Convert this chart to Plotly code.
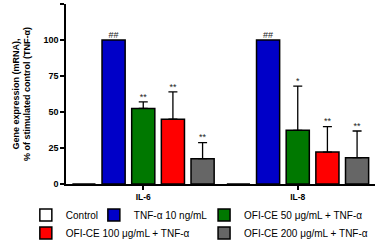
import plotly.graph_objects as go

categories = ["IL-6", "IL-8"]
series_names = ["Control", "TNF-α 10 ng/mL", "OFI-CE 50 μg/mL + TNF-α",
                "OFI-CE 100 μg/mL + TNF-α", "OFI-CE 200 μg/mL + TNF-α"]
control_vals = [0, 0]
tnf_vals = [100, 100]
ofi50_vals = [52.5, 37.3]
ofi100_vals = [45, 22.2]
ofi200_vals = [17.6, 18.3]
control_err = [0, 0]
tnf_err = [0, 0]
ofi50_err = [4.5, 30.7]
ofi100_err = [19, 17.6]
ofi200_err = [11.1, 18.5]
control_sig = ["", ""]
tnf_sig = ["##", "##"]
ofi50_sig = ["**", "*"]
ofi100_sig = ["**", "**"]
ofi200_sig = ["**", "**"]

colors = ["#FFFFFF", "#0000C8", "#007800", "#FF0000", "#666666"]
legend_ids = ["legend", "legend2", "legend3", "legend4", "legend5"]
values = [control_vals, tnf_vals, ofi50_vals, ofi100_vals, ofi200_vals]
errors = [control_err, tnf_err, ofi50_err, ofi100_err, ofi200_err]
sigs = [control_sig, tnf_sig, ofi50_sig, ofi100_sig, ofi200_sig]

fig = go.Figure()
for i, (name, vals, errs, col) in enumerate(zip(series_names, values, errors, colors)):
    fig.add_trace(go.Bar(
        x=categories, y=vals, name=name, offsetgroup=str(i), legend=legend_ids[i],
        marker=dict(color=col, line=dict(color="black", width=1.5)),
        error_y=dict(type="data", array=errs, arrayminus=[0] * len(errs),
                     symmetric=False, color="black", thickness=1.3, width=4.5,
                     visible=any(e > 0 for e in errs)),
    ))

for i, (vals, errs, sg) in enumerate(zip(values, errors, sigs)):
    fig.add_trace(go.Scatter(
        x=categories, y=[v + e for v, e in zip(vals, errs)], text=sg,
        mode="text", textposition="top center", offsetgroup=str(i),
        textfont=dict(size=9, color="#222222", family="Arial"),
        showlegend=False, hoverinfo="skip", cliponaxis=False,
    ))

legend_common = dict(orientation="h", xref="container", yref="container",
                     xanchor="left", yanchor="middle",
                     font=dict(size=10, family="Arial", color="black"),
                     itemwidth=30, bgcolor="rgba(0,0,0,0)")

fig.update_layout(
    width=380, height=242,
    margin=dict(l=66, r=5, t=4, b=58),
    barmode="group", scattermode="group",
    bargap=0.04, bargroupgap=0.22,
    plot_bgcolor="white", paper_bgcolor="white",
    font=dict(family="Arial", color="black"),
    showlegend=True,
    legend=dict(x=0.068, y=0.112, **legend_common),
    legend2=dict(x=0.247, y=0.112, **legend_common),
    legend3=dict(x=0.537, y=0.112, **legend_common),
    legend4=dict(x=0.068, y=0.037, **legend_common),
    legend5=dict(x=0.537, y=0.037, **legend_common),
    xaxis=dict(showline=True, linecolor="black", linewidth=1.5,
               ticks="outside", ticklen=4, tickwidth=1.5, tickcolor="black",
               tickfont=dict(size=8.5, family="Arial", color="black", weight="bold"),
               range=[-0.5, 1.5], automargin=False),
    yaxis=dict(range=[0, 125], tickvals=[0, 25, 50, 75, 100, 125],
               showline=True, linecolor="black", linewidth=1.5,
               ticks="outside", ticklen=4, tickwidth=1.5, tickcolor="black",
               showgrid=False, zeroline=False, automargin=False,
               tickfont=dict(size=9, family="Arial", color="black", weight="bold"),
               title=dict(text="Gene expression (mRNA),<br>% of stimulated control (TNF-α)",
                          font=dict(size=9, family="Arial", color="black", weight="bold"),
                          standoff=11)),
)

fig.write_html("out.html", config={"displayModeBar": False},
               post_script="document.body.style.margin='0';")
